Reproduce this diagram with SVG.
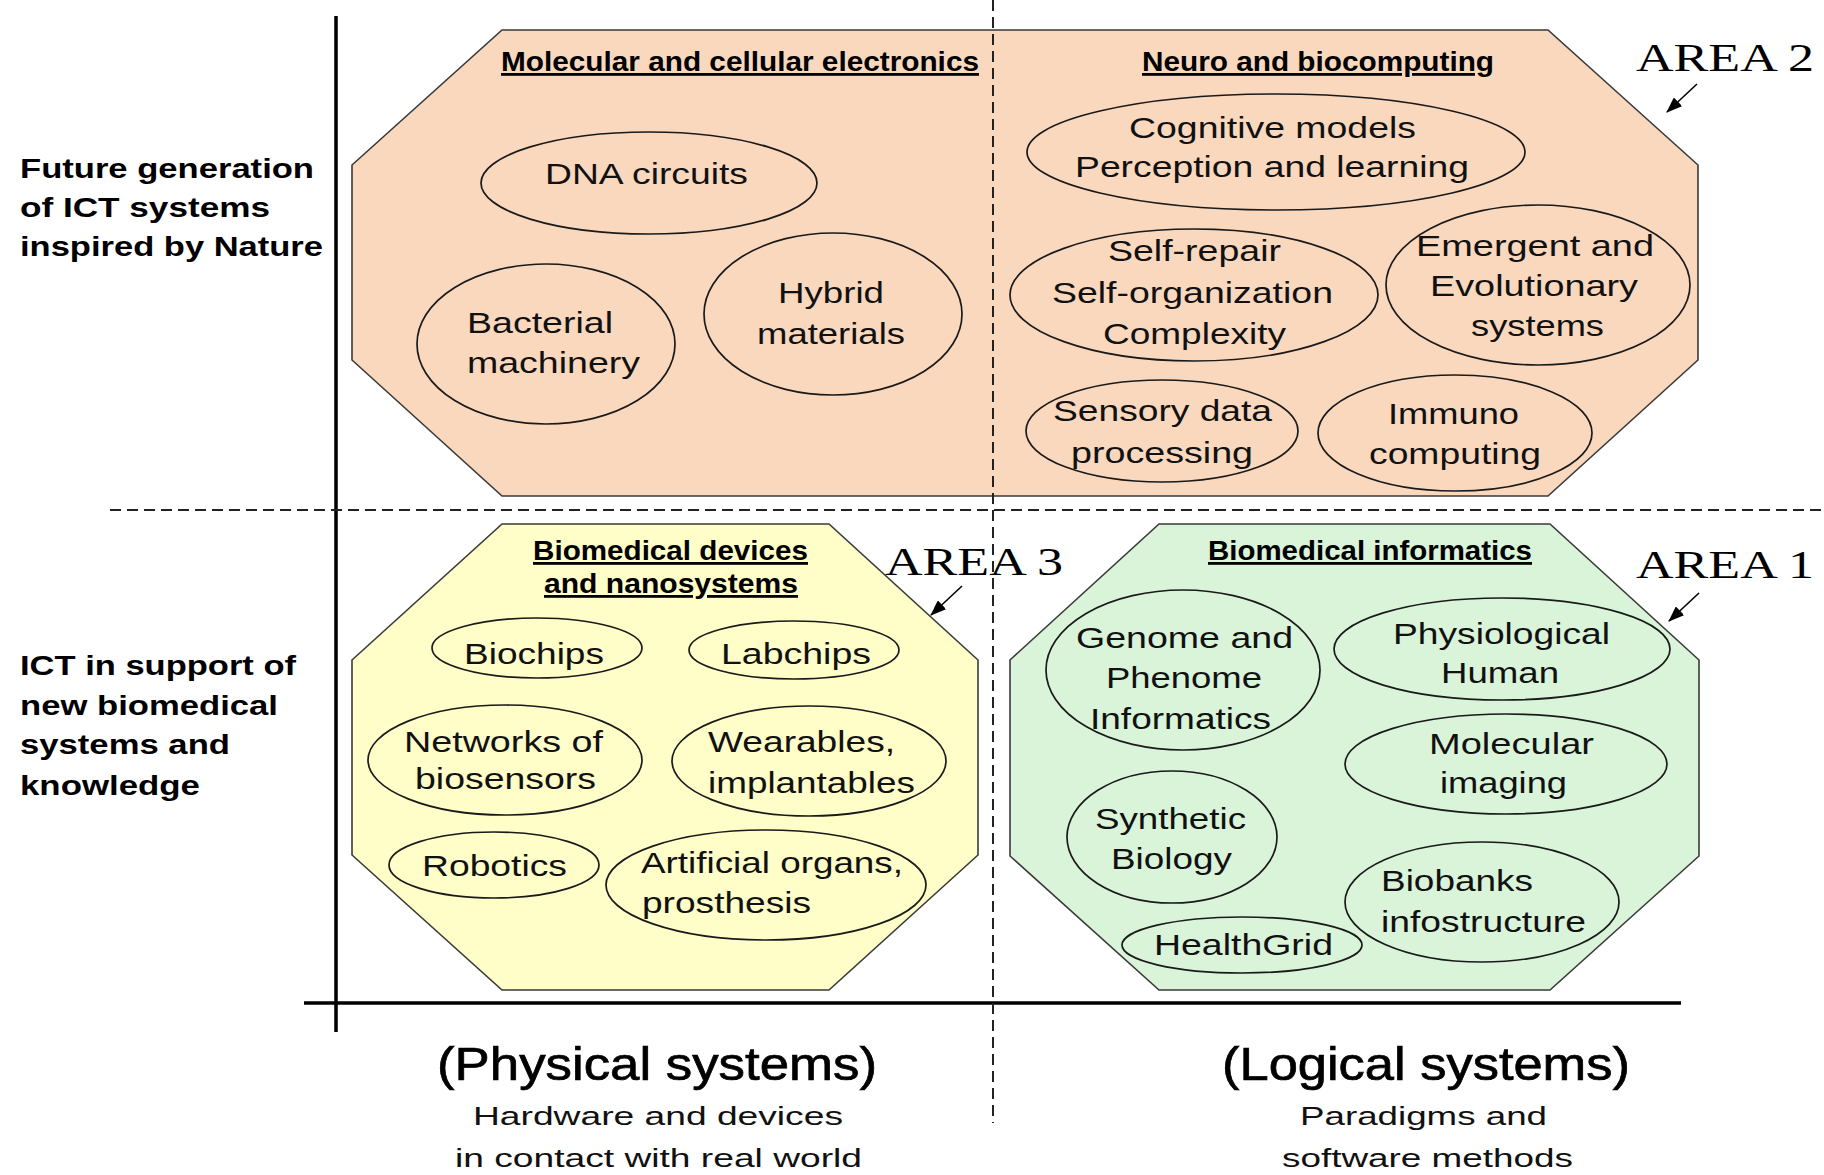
<svg xmlns="http://www.w3.org/2000/svg" width="1824" height="1175" viewBox="0 0 1824 1175">
<defs>
<style>
.oct{stroke:#3a3a3a;stroke-width:1.6}
.ell{fill:none;stroke:#1a1a1a;stroke-width:1.7}
.t{font-family:"Liberation Sans",Arial,sans-serif;font-size:30px;fill:#111}
.ttl{font-family:"Liberation Sans",Arial,sans-serif;font-size:28px;font-weight:bold;fill:#000;text-decoration:underline}
.lab{font-family:"Liberation Sans",Arial,sans-serif;font-size:27px;font-weight:bold;fill:#000}
.big{font-family:"Liberation Sans",Arial,sans-serif;font-size:46px;fill:#000;stroke:#000;stroke-width:0.7}
.sub{font-family:"Liberation Sans",Arial,sans-serif;font-size:26px;fill:#111}
.area{font-family:"Liberation Serif","Times New Roman",serif;font-size:41px;fill:#000}
.axis{stroke:#000;stroke-width:3.5}
.dash{stroke:#222;stroke-width:2;stroke-dasharray:11 6}
.arr{stroke:#000;stroke-width:1.6;fill:none}
</style>
<marker id="ah" markerUnits="userSpaceOnUse" markerWidth="16" markerHeight="12" refX="15" refY="6" orient="auto">
<path d="M0,0 L16,6 L0,12 z" fill="#000"/>
</marker>
</defs>
<rect width="1824" height="1175" fill="#fff"/>

<g id="area2-octagon"><polygon class="oct" fill="#FAD8BE" points="502,30 1548,30 1698,165 1698,360 1548,496 502,496 352,360 352,165"/></g>
<g id="area3-octagon"><polygon class="oct" fill="#FFFDC8" points="502,524 829,524 978,660 978,855 829,990 502,990 352,855 352,660"/></g>
<g id="area1-octagon"><polygon class="oct" fill="#DAF4DA" points="1159,524 1550,524 1699,660 1699,856 1550,990 1159,990 1010,856 1010,660"/></g>

<g id="axes">
<line class="axis" x1="336" y1="16" x2="336" y2="1032"/>
<line class="axis" x1="304" y1="1003" x2="1681" y2="1003"/>
<line class="dash" x1="993" y1="0" x2="993" y2="1123"/>
<line class="dash" x1="110" y1="510" x2="1824" y2="510"/>
</g>

<g id="title-molecular"><text class="ttl" x="501" y="71" textLength="478" lengthAdjust="spacingAndGlyphs">Molecular and cellular electronics</text></g>
<g id="title-neuro"><text class="ttl" x="1142" y="71" textLength="352" lengthAdjust="spacingAndGlyphs">Neuro and biocomputing</text></g>
<g id="title-biodevices">
<text class="ttl" x="533" y="560" textLength="275" lengthAdjust="spacingAndGlyphs">Biomedical devices</text>
<text class="ttl" x="544" y="593" textLength="254" lengthAdjust="spacingAndGlyphs">and nanosystems</text>
</g>
<g id="title-bioinformatics"><text class="ttl" x="1208" y="560" textLength="324" lengthAdjust="spacingAndGlyphs">Biomedical informatics</text></g>

<g id="dna"><ellipse class="ell" cx="649" cy="183" rx="168" ry="51"/>
<text class="t" x="545" y="184" textLength="203" lengthAdjust="spacingAndGlyphs">DNA circuits</text></g>
<g id="bacterial"><ellipse class="ell" cx="546" cy="344" rx="129" ry="80"/>
<text class="t" x="467" y="333" textLength="146" lengthAdjust="spacingAndGlyphs">Bacterial</text>
<text class="t" x="467" y="373" textLength="173" lengthAdjust="spacingAndGlyphs">machinery</text></g>
<g id="hybrid"><ellipse class="ell" cx="833" cy="314" rx="129" ry="81"/>
<text class="t" x="778" y="303" textLength="106" lengthAdjust="spacingAndGlyphs">Hybrid</text>
<text class="t" x="757" y="344" textLength="148" lengthAdjust="spacingAndGlyphs">materials</text></g>

<g id="cognitive"><ellipse class="ell" cx="1276" cy="152" rx="249" ry="58"/>
<text class="t" x="1129" y="138" textLength="287" lengthAdjust="spacingAndGlyphs">Cognitive models</text>
<text class="t" x="1075" y="177" textLength="394" lengthAdjust="spacingAndGlyphs">Perception and learning</text></g>
<g id="selfrepair"><ellipse class="ell" cx="1194" cy="295" rx="184" ry="66"/>
<text class="t" x="1108" y="261" textLength="173" lengthAdjust="spacingAndGlyphs">Self-repair</text>
<text class="t" x="1052" y="303" textLength="281" lengthAdjust="spacingAndGlyphs">Self-organization</text>
<text class="t" x="1103" y="344" textLength="183" lengthAdjust="spacingAndGlyphs">Complexity</text></g>
<g id="emergent"><ellipse class="ell" cx="1538" cy="285" rx="152" ry="80"/>
<text class="t" x="1416" y="256" textLength="238" lengthAdjust="spacingAndGlyphs">Emergent and</text>
<text class="t" x="1430" y="296" textLength="208" lengthAdjust="spacingAndGlyphs">Evolutionary</text>
<text class="t" x="1471" y="336" textLength="133" lengthAdjust="spacingAndGlyphs">systems</text></g>
<g id="sensory"><ellipse class="ell" cx="1162" cy="431" rx="136" ry="51"/>
<text class="t" x="1053" y="421" textLength="219" lengthAdjust="spacingAndGlyphs">Sensory data</text>
<text class="t" x="1071" y="463" textLength="182" lengthAdjust="spacingAndGlyphs">processing</text></g>
<g id="immuno"><ellipse class="ell" cx="1455" cy="433" rx="137" ry="58"/>
<text class="t" x="1388" y="424" textLength="131" lengthAdjust="spacingAndGlyphs">Immuno</text>
<text class="t" x="1369" y="464" textLength="172" lengthAdjust="spacingAndGlyphs">computing</text></g>

<g id="biochips"><ellipse class="ell" cx="537" cy="648" rx="105" ry="30"/>
<text class="t" x="464" y="664" textLength="140" lengthAdjust="spacingAndGlyphs">Biochips</text></g>
<g id="labchips"><ellipse class="ell" cx="794" cy="650" rx="105" ry="29"/>
<text class="t" x="721" y="664" textLength="150" lengthAdjust="spacingAndGlyphs">Labchips</text></g>
<g id="networks"><ellipse class="ell" cx="505" cy="760" rx="137" ry="55"/>
<text class="t" x="404" y="752" textLength="199" lengthAdjust="spacingAndGlyphs">Networks of</text>
<text class="t" x="415" y="789" textLength="181" lengthAdjust="spacingAndGlyphs">biosensors</text></g>
<g id="wearables"><ellipse class="ell" cx="809" cy="761" rx="137" ry="55"/>
<text class="t" x="708" y="752" textLength="187" lengthAdjust="spacingAndGlyphs">Wearables,</text>
<text class="t" x="708" y="793" textLength="207" lengthAdjust="spacingAndGlyphs">implantables</text></g>
<g id="robotics"><ellipse class="ell" cx="494" cy="865" rx="105" ry="33"/>
<text class="t" x="422" y="876" textLength="145" lengthAdjust="spacingAndGlyphs">Robotics</text></g>
<g id="artificial"><ellipse class="ell" cx="766" cy="885" rx="160" ry="55"/>
<text class="t" x="641" y="873" textLength="262" lengthAdjust="spacingAndGlyphs">Artificial organs,</text>
<text class="t" x="642" y="913" textLength="169" lengthAdjust="spacingAndGlyphs">prosthesis</text></g>

<g id="genome"><ellipse class="ell" cx="1183" cy="670" rx="137" ry="80"/>
<text class="t" x="1076" y="648" textLength="217" lengthAdjust="spacingAndGlyphs">Genome and</text>
<text class="t" x="1106" y="688" textLength="156" lengthAdjust="spacingAndGlyphs">Phenome</text>
<text class="t" x="1090" y="729" textLength="181" lengthAdjust="spacingAndGlyphs">Informatics</text></g>
<g id="physiological"><ellipse class="ell" cx="1502" cy="649" rx="168" ry="51"/>
<text class="t" x="1393" y="644" textLength="217" lengthAdjust="spacingAndGlyphs">Physiological</text>
<text class="t" x="1441" y="683" textLength="118" lengthAdjust="spacingAndGlyphs">Human</text></g>
<g id="molecular-imaging"><ellipse class="ell" cx="1506" cy="764" rx="161" ry="50"/>
<text class="t" x="1429" y="754" textLength="165" lengthAdjust="spacingAndGlyphs">Molecular</text>
<text class="t" x="1440" y="793" textLength="127" lengthAdjust="spacingAndGlyphs">imaging</text></g>
<g id="synthetic"><ellipse class="ell" cx="1172" cy="837" rx="105" ry="66"/>
<text class="t" x="1095" y="829" textLength="151" lengthAdjust="spacingAndGlyphs">Synthetic</text>
<text class="t" x="1111" y="869" textLength="121" lengthAdjust="spacingAndGlyphs">Biology</text></g>
<g id="biobanks"><ellipse class="ell" cx="1482" cy="902" rx="137" ry="60"/>
<text class="t" x="1381" y="891" textLength="152" lengthAdjust="spacingAndGlyphs">Biobanks</text>
<text class="t" x="1381" y="932" textLength="205" lengthAdjust="spacingAndGlyphs">infostructure</text></g>
<g id="healthgrid"><ellipse class="ell" cx="1242" cy="945" rx="120" ry="28"/>
<text class="t" x="1154" y="955" textLength="179" lengthAdjust="spacingAndGlyphs">HealthGrid</text></g>

<g id="label-future">
<text class="lab" x="20" y="178" textLength="294" lengthAdjust="spacingAndGlyphs">Future generation</text>
<text class="lab" x="20" y="217" textLength="250" lengthAdjust="spacingAndGlyphs">of ICT systems</text>
<text class="lab" x="20" y="256" textLength="303" lengthAdjust="spacingAndGlyphs">inspired by Nature</text>
</g>
<g id="label-ict">
<text class="lab" x="20" y="675" textLength="276" lengthAdjust="spacingAndGlyphs">ICT in support of</text>
<text class="lab" x="20" y="715" textLength="258" lengthAdjust="spacingAndGlyphs">new biomedical</text>
<text class="lab" x="20" y="754" textLength="210" lengthAdjust="spacingAndGlyphs">systems and</text>
<text class="lab" x="20" y="795" textLength="180" lengthAdjust="spacingAndGlyphs">knowledge</text>
</g>
<g id="label-physical">
<text class="big" x="437" y="1080" textLength="440" lengthAdjust="spacingAndGlyphs">(Physical systems)</text>
<text class="sub" x="473" y="1125" textLength="370" lengthAdjust="spacingAndGlyphs">Hardware and devices</text>
<text class="sub" x="455" y="1167" textLength="407" lengthAdjust="spacingAndGlyphs">in contact with real world</text>
</g>
<g id="label-logical">
<text class="big" x="1222" y="1080" textLength="408" lengthAdjust="spacingAndGlyphs">(Logical systems)</text>
<text class="sub" x="1300" y="1125" textLength="247" lengthAdjust="spacingAndGlyphs">Paradigms and</text>
<text class="sub" x="1282" y="1167" textLength="291" lengthAdjust="spacingAndGlyphs">software methods</text>
</g>
<g id="area2-label"><text class="area" x="1636" y="71" textLength="178" lengthAdjust="spacingAndGlyphs">AREA 2</text></g>
<g id="area3-label"><text class="area" x="885" y="575" textLength="178" lengthAdjust="spacingAndGlyphs">AREA 3</text></g>
<g id="area1-label"><text class="area" x="1636" y="578" textLength="178" lengthAdjust="spacingAndGlyphs">AREA 1</text></g>

<g id="connectors">
<line class="arr" x1="1697" y1="84" x2="1667" y2="112" marker-end="url(#ah)"/>
<line class="arr" x1="962" y1="586" x2="931" y2="615" marker-end="url(#ah)"/>
<line class="arr" x1="1699" y1="593" x2="1669" y2="621" marker-end="url(#ah)"/>
</g>
</svg>
